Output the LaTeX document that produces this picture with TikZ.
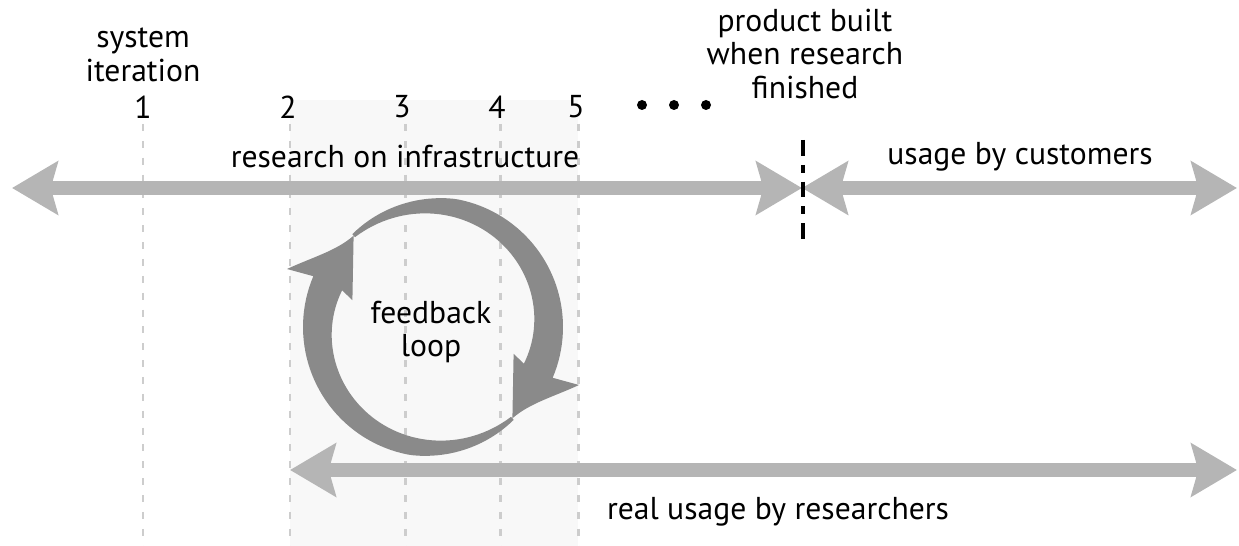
\documentclass[tikz,border=0pt]{standalone}
\usepackage{fontspec}
\setmainfont{PT Sans}
\usetikzlibrary{arrows.meta}
\usetikzlibrary{calc}

\definecolor{bandgrey}{RGB}{181,181,181}
\definecolor{loopgrey}{RGB}{138,138,138}
\definecolor{tickgrey}{RGB}{205,205,205}
\definecolor{shadegrey}{RGB}{248,248,248}

\tikzset{
  tip/.tip={Stealth[length=26pt,width=30pt,inset=4pt]},
  band/.style={draw=bandgrey, line width=7.9pt, tip-tip},
  iterline/.style={draw=tickgrey, line width=1.7pt, dash pattern=on 4pt off 5.6pt},
  sepline/.style={draw=black, line width=2.8pt, dash pattern=on 9pt off 5.1pt on 4.5pt off 5.1pt},
  lbl/.style={inner sep=0pt, align=center}
}

\begin{document}
\begin{tikzpicture}[x=0.02cm, y=-0.02cm, font=\fontsize{18}{19.3}\selectfont]
\useasboundingbox (0,0) rectangle (1239,546);

\fill[shadegrey] (290,100) rectangle (578,546);
\foreach \x in {143,290,405,500,578} \draw[iterline] (\x,124) -- (\x,546);

\node[lbl] (sysit) at (143,55) {system\\iteration};
\foreach \x [count=\i] in {143,288,402,497,576} \node[lbl] (n\i) at (\x,107) {\i};
\foreach \x in {642,674,706} \fill (\x,105) circle (5);
\node[lbl] (prod) at (805,54) {product built\\when research\\finished};

\coordinate (topL) at (12,188);
\coordinate (done) at (802,188);
\coordinate (topR) at (1237,188);
\coordinate (botL) at (290,470);
\coordinate (botR) at (1237,470);
\coordinate (sepT) at (803,140);
\coordinate (sepB) at (803,240);

\draw[band] (topL) -- (done);
\draw[band] (done) -- (topR);
\draw[band] (botL) -- (botR);
\draw[sepline] (sepT) -- (sepB);

\node[lbl] (infra) at (405,157) {research on infrastructure};
\node[lbl] (cust) at (1020,157) {usage by customers};
\node[lbl] (real) at (778,512) {real usage by researchers};

\begin{scope}[shift={(433,327)}]
\foreach \a in {0,180}
  \fill[loopgrey, rotate=\a] plot[domain=49:203, samples=60] (\x:{130-7*max(0,(100-\x)/51)})
    -- (-146,-58) .. controls (-120,-70) and (-97,-76) .. (-79.4,-91.3)
    -- (-80.6,-26.8) -- (-90.9,-36.7)
    -- plot[domain=202:49, samples=60] (\x:{119-21*(\x-49)/153}) -- cycle;
\end{scope}
\node[lbl] (fb) at (431,332) {feedback\\loop};
\end{tikzpicture}
\end{document}
